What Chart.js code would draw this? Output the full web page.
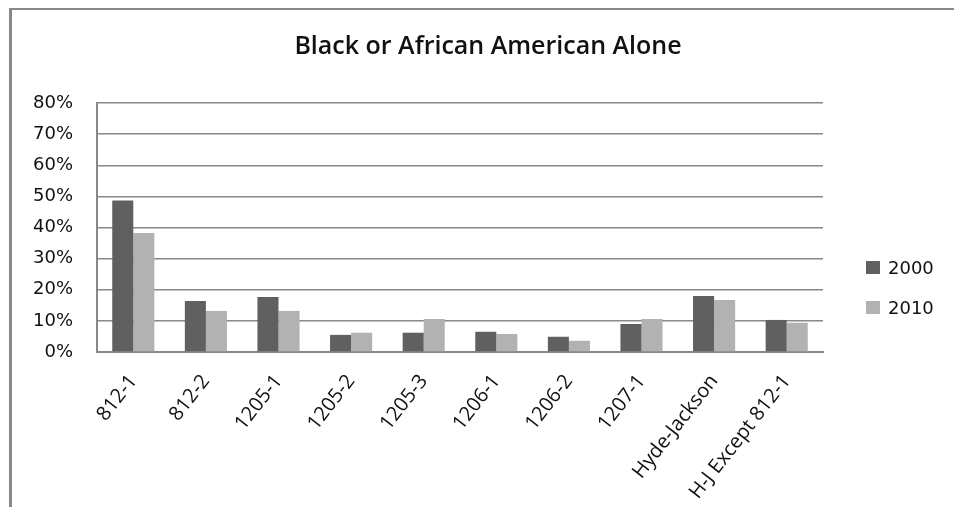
<!DOCTYPE html>
<html>
<head>
<meta charset="utf-8">
<script src="https://cdn.jsdelivr.net/npm/chart.js@4.4.1/dist/chart.umd.min.js"></script>
<style>
  html, body { margin: 0; padding: 0; background: #fff; }
  #wrap { position: relative; width: 954px; height: 507px; overflow: hidden; }
  #frame { position: absolute; left: 9px; top: 8px; width: 960px; height: 520px;
           border-left: 3px solid #888; border-top: 2px solid #888; box-sizing: border-box; }
  #c { position: absolute; left: 0; top: 0; }
  #legend { position: absolute; left: 866px; top: 256px; font-family: "DejaVu Sans", sans-serif;
            font-size: 18px; color: #111; }
  #legend .item { display: flex; align-items: center; height: 22px; margin-bottom: 18px; }
  #legend .box { width: 14px; height: 13px; margin-right: 8px; }
</style>
</head>
<body>
<div id="wrap">
  <div id="frame"></div>
  <canvas id="c" width="954" height="507"></canvas>
  <div id="legend"></div>
</div>
<script>
const title = "Black or African American Alone";
const categories = ["812-1", "812-2", "1205-1", "1205-2", "1205-3", "1206-1", "1206-2", "1207-1", "Hyde-Jackson", "H-J Except 812-1"];
const seriesNames = ["2000", "2010"];
const values2000 = [48.7, 16.4, 17.7, 5.5, 6.2, 6.5, 4.9, 9.0, 18.0, 10.3];
const values2010 = [38.2, 13.2, 13.2, 6.2, 10.6, 5.8, 3.6, 10.6, 16.7, 9.4];
const yTicks = [0, 10, 20, 30, 40, 50, 60, 70, 80];
const colors = ["#606060", "#b2b2b2"];

const chart = new Chart(document.getElementById("c"), {
  type: "bar",
  data: {
    labels: categories,
    datasets: [
      { label: seriesNames[0], data: values2000, backgroundColor: colors[0], borderWidth: 0 },
      { label: seriesNames[1], data: values2010, backgroundColor: colors[1], borderWidth: 0 }
    ]
  },
  options: {
    responsive: false,
    animation: false,
    devicePixelRatio: 1,
    layout: { padding: { left: 22, right: 0, top: 0, bottom: 0 } },
    datasets: { bar: { categoryPercentage: 0.58, barPercentage: 1.0 } },
    plugins: {
      legend: { display: false },
      tooltip: { enabled: false },
      title: {
        display: true,
        text: title,
        color: "#111",
        font: { family: "Open Sans", size: 25, weight: "600" },
        padding: { top: 32, bottom: 41 }
      }
    },
    scales: {
      x: {
        grid: { display: false, drawTicks: false },
        border: { display: true, color: "#888", width: 2 },
        ticks: {
          color: "#111",
          font: { family: "Open Sans", size: 20 },
          minRotation: 52, maxRotation: 52,
          padding: 18,
          autoSkip: false
        },
        afterFit: (s) => { s.height = 507 - 352; }
      },
      y: {
        min: 0, max: 80,
        afterBuildTicks: (s) => { s.ticks = yTicks.map(v => ({ value: v })); },
        grid: { color: "#888", lineWidth: 1.5, drawTicks: false },
        border: { display: true, color: "#888", width: 2 },
        ticks: {
          color: "#111",
          font: { family: "DejaVu Sans", size: 18 },
          padding: 24,
          callback: (v) => v + "%"
        },
        afterFit: (s) => { s.width = 97 - 22; }
      },
      yRightSpace: {
        position: "right",
        display: true,
        grid: { display: false, drawTicks: false },
        border: { display: false },
        ticks: { display: false },
        afterFit: (s) => { s.width = 954 - 823; }
      }
    }
  }
});

const leg = document.getElementById("legend");
chart.data.datasets.forEach((ds) => {
  const it = document.createElement("div");
  it.className = "item";
  const b = document.createElement("span");
  b.className = "box";
  b.style.background = ds.backgroundColor;
  const t = document.createElement("span");
  t.textContent = ds.label;
  it.appendChild(b); it.appendChild(t);
  leg.appendChild(it);
});
</script>
</body>
</html>
